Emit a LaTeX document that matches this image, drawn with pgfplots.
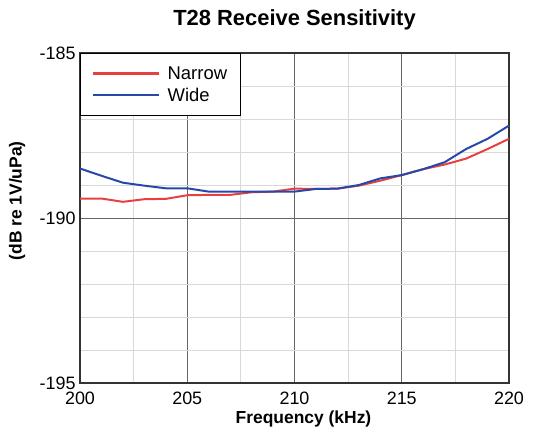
\documentclass[border=0pt]{standalone}
\usepackage{pgfplots}
\pgfplotsset{compat=1.18}
\usepackage{fontspec}
\setmainfont{Liberation Sans}
\definecolor{nred}{RGB}{232,64,64}
\definecolor{wblue}{RGB}{40,72,168}
\begin{document}
\begin{tikzpicture}[x=1bp,y=1bp]
\path[use as bounding box] (-80,-49) rectangle (456,383);
\begin{axis}[
  at={(0,0)}, anchor=south west,
  scale only axis, width=429bp, height=330bp,
  xmin=200, xmax=220, ymin=-195, ymax=-185,
  xtick={200,205,...,220}, ytick={-195,-190,-185},
  minor xtick={202.5,207.5,212.5,217.5},
  minor ytick={-194,-193,-192,-191,-189,-188,-187,-186},
  grid=both,
  major grid style={draw=black!60, line width=0.9pt},
  minor grid style={draw=black!15, line width=0.8pt},
  axis line style={draw=black!80, line width=1.2pt},
  major tick length=0pt, minor tick length=0pt,
  tick label style={font=\fontsize{18}{20}\selectfont},
  /pgf/number format/assume math mode=true,
  /pgf/number format/1000 sep={},
  xticklabel style={yshift=-5bp},
  yticklabel style={xshift=-1bp},
  title={\bfseries T28 Receive Sensitivity},
  title style={font=\fontsize{22}{24}\selectfont, at={(axis description cs:0.5,1)}, anchor=center, yshift=27bp},
  xlabel={\bfseries Frequency (kHz)},
  xlabel style={font=\fontsize{17.5}{19}\selectfont, at={(axis description cs:0.5,0)}, anchor=center, yshift=-36bp, xshift=9bp},
  ylabel={\bfseries (dB re 1V/uPa)},
  ylabel style={font=\fontsize{17.5}{19}\selectfont, at={(axis description cs:0,0.552)}, anchor=center, yshift=63bp},
  legend style={at={(axis description cs:0,1)}, anchor=north west, draw=black, line width=1pt,
    font=\fontsize{18.5}{20}\selectfont, inner xsep=11bp, inner ysep=11bp,
    cells={anchor=west}, row sep=3bp,
    /tikz/every odd column/.style={column sep=6bp}},
  legend image code/.code={\draw[#1, line width=2.2pt] (0,0) -- (66bp,0);},
  legend cell align=left,
]
\addplot[nred, line width=2pt] coordinates {
(200,-189.41) (201,-189.41) (202,-189.51) (203,-189.43) (204,-189.42)
(205,-189.31) (206,-189.30) (207,-189.30) (208,-189.22) (209,-189.20)
(210,-189.11) (211,-189.12) (212,-189.11) (213,-189.02) (214,-188.87)
(215,-188.70) (216,-188.52) (217,-188.38) (218,-188.20) (219,-187.91)
(220,-187.60)};
\addlegendentry{Narrow}
\addplot[wblue, line width=2pt] coordinates {
(200,-188.50) (201,-188.72) (202,-188.93) (203,-189.02) (204,-189.10)
(205,-189.10) (206,-189.20) (207,-189.20) (208,-189.20) (209,-189.20)
(210,-189.20) (211,-189.12) (212,-189.11) (213,-189.00) (214,-188.80)
(215,-188.70) (216,-188.52) (217,-188.31) (218,-187.91) (219,-187.60)
(220,-187.20)};
\addlegendentry{Wide}
\end{axis}
\end{tikzpicture}
\end{document}
